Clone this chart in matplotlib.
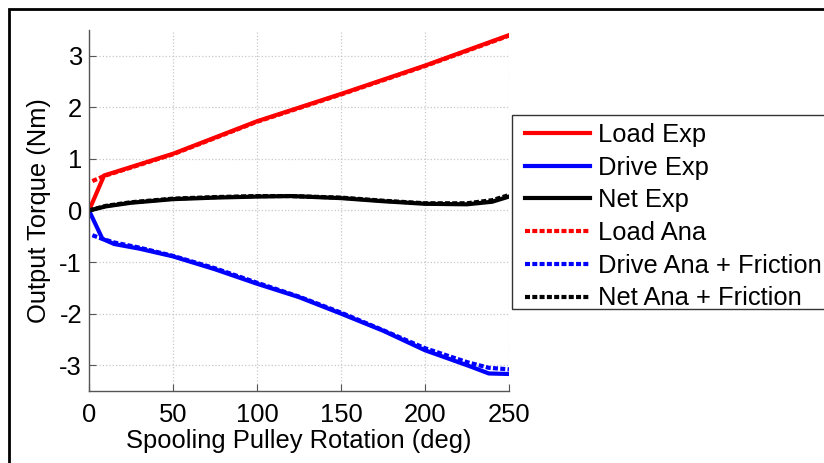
import matplotlib
matplotlib.use("Agg")
import matplotlib.pyplot as plt
from matplotlib.patches import Rectangle

plt.rcParams['font.family'] = ['Liberation Sans', 'DejaVu Sans']
plt.rcParams['axes.unicode_minus'] = False

# experimental curves
x_load_exp = [0, 9, 15, 50, 100, 150, 200, 250]
load_exp = [0, 0.68, 0.74, 1.10, 1.73, 2.26, 2.81, 3.40]
x_drive_exp = [0, 8, 15, 30, 50, 75, 100, 125, 150, 175, 200, 225, 238, 250]
drive_exp = [0, -0.55, -0.65, -0.74, -0.89, -1.14, -1.42, -1.68, -2.0, -2.33, -2.71, -3.0, -3.16, -3.17]
x_net_exp = [0, 10, 25, 50, 75, 100, 120, 150, 175, 200, 225, 240, 250]
net_exp = [0, 0.08, 0.15, 0.22, 0.25, 0.27, 0.28, 0.24, 0.18, 0.13, 0.12, 0.17, 0.27]

# analytical curves
x_load_ana = [2, 9, 15, 50, 100, 150, 200, 250]
load_ana = [0.57, 0.67, 0.73, 1.09, 1.72, 2.25, 2.80, 3.39]
x_drive_ana = [2, 8, 15, 30, 50, 75, 100, 125, 150, 175, 200, 225, 238, 250]
drive_ana = [-0.48, -0.55, -0.62, -0.72, -0.88, -1.12, -1.40, -1.67, -1.98, -2.32, -2.67, -2.94, -3.05, -3.08]
net_ana = [0, 0.09, 0.16, 0.23, 0.26, 0.28, 0.28, 0.25, 0.19, 0.14, 0.14, 0.20, 0.30]

labels = ["Load Exp", "Drive Exp", "Net Exp", "Load Ana",
          "Drive Ana + Friction", "Net Ana + Friction"]

fs = 18.4
fig = plt.figure(figsize=(8.24, 4.63), dpi=100)
ax = fig.add_axes([89/824, 72/463, 420/824, 361/463])

lw = 3
dot = (0, (1.2, 0.55))
h = []
h += ax.plot(x_load_exp, load_exp, color='red', lw=lw)
h += ax.plot(x_drive_exp, drive_exp, color='blue', lw=lw)
h += ax.plot(x_net_exp, net_exp, color='black', lw=lw)
h += ax.plot(x_load_ana, load_ana, color='red', lw=lw, linestyle=dot)
h += ax.plot(x_drive_ana, drive_ana, color='blue', lw=lw, linestyle=dot)
h += ax.plot(x_net_exp, net_ana, color='black', lw=lw, linestyle=dot)

ax.set_xlim(0, 250)
ax.set_ylim(-3.5, 3.5)
ax.set_xticks([0, 50, 100, 150, 200, 250])
ax.set_yticks([-3, -2, -1, 0, 1, 2, 3])
ax.grid(True, linestyle=':', color='#c8c8c8', lw=0.9)
for s in ['top', 'right']:
    ax.spines[s].set_visible(False)
for s in ['left', 'bottom']:
    ax.spines[s].set_color('#555555')
    ax.spines[s].set_linewidth(1.0)
ax.tick_params(direction='in', length=5, color='#555555', labelsize=fs)
ax.tick_params(axis='y', pad=5)
ax.tick_params(axis='x', pad=9)
ax.set_xlabel("Spooling Pulley Rotation (deg)", fontsize=fs, labelpad=1)
ax.set_ylabel("Output Torque (Nm)", fontsize=fs, labelpad=6)

# legend box drawn by hand, it runs off the right edge
fig.patches.append(Rectangle((512/824, 1 - 309/463), 1.0, 194/463, transform=fig.transFigure,
                             facecolor='white', edgecolor='#333333', lw=1.0, zorder=5))
leg = ax.legend(h, labels, loc='upper left', bbox_to_anchor=(525/824, 1 - 123/463),
                bbox_transform=fig.transFigure, fontsize=fs, frameon=False,
                handlelength=2.55, handletextpad=0.31, labelspacing=0.34, borderpad=0,
                borderaxespad=0)
leg.set_zorder(6)
leg.remove()
fig.add_artist(leg)

# frame around the figure (cropped at right/bottom)
fig.patches.append(Rectangle((9/824, -0.1), 1.2, 1.1 - 9/463, transform=fig.transFigure,
                             fill=False, edgecolor='black', lw=2, clip_on=False))

plt.savefig("out.png", dpi=100)
